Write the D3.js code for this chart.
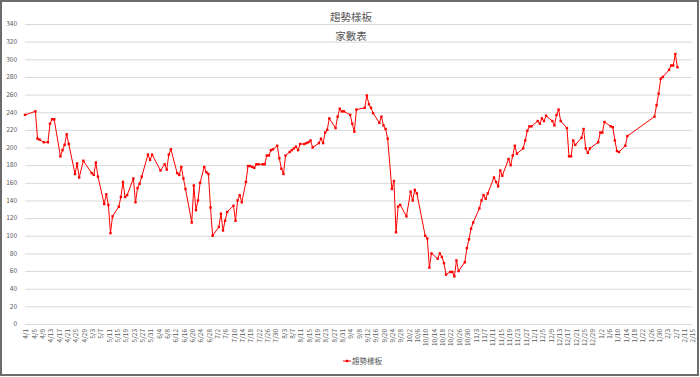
<!DOCTYPE html>
<html>
<head>
<meta charset="utf-8">
<script src="https://cdn.jsdelivr.net/npm/d3@7"></script>
<style>
  body { margin: 0; background: #fff; }
  svg { display: block; font-family: "Noto Sans CJK TC", "Noto Sans", sans-serif; }
</style>
</head>
<body>
<svg id="chart" width="700" height="377"></svg>
<script>
// 趨勢樣板 — 家數表
const title = '趨勢樣板';
const subtitle = '家數表';
const seriesName = '趨勢樣板';

const days = [
  '4/1','4/6','4/7','4/8','4/10','4/12','4/13','4/14','4/15','4/18','4/19','4/20','4/21','4/22','4/25','4/26','4/27','4/29',
  '5/3','5/4','5/5','5/6','5/9','5/10','5/11','5/12','5/13','5/16','5/17','5/18','5/19','5/20','5/23','5/24','5/25','5/26','5/27','5/30','5/31',
  '6/1','6/5','6/7','6/8','6/9','6/10','6/13','6/14','6/15','6/16','6/17','6/20','6/21','6/22','6/23','6/24','6/26','6/27','6/28','6/29','6/30',
  '7/3','7/4','7/5','7/6','7/7','7/10','7/11','7/12','7/13','7/14','7/16','7/17','7/18','7/19','7/20','7/21','7/22','7/24','7/25','7/26','7/27','7/28','7/29','7/31',
  '8/1','8/2','8/3','8/4','8/6','8/7','8/8','8/9','8/10','8/11','8/13','8/14','8/15','8/16','8/17','8/20','8/21','8/22','8/23','8/24','8/25','8/28','8/29','8/30','8/31',
  '9/1','9/4','9/5','9/6','9/7','9/11','9/12','9/13','9/14','9/15','9/18','9/19','9/20','9/21','9/22','9/24','9/25','9/26','9/27','9/28',
  '10/1','10/3','10/4','10/5','10/6','10/10','10/11','10/12','10/13','10/16','10/17','10/18','10/19','10/20','10/22','10/23','10/24','10/25','10/26','10/29','10/30','10/31',
  '11/1','11/2','11/5','11/6','11/7','11/8','11/9','11/12','11/13','11/14','11/15','11/16','11/19','11/20','11/21','11/22','11/23','11/26','11/27','11/28','11/29','11/30',
  '12/3','12/4','12/5','12/6','12/7','12/10','12/11','12/12','12/13','12/14','12/17','12/18','12/19','12/20','12/21','12/24','12/25','12/26','12/27','12/28',
  '1/1','1/2','1/3','1/4','1/7','1/8','1/9','1/10','1/11','1/14','1/15','1/28','1/29','1/30','1/31',
  '2/1','2/4','2/5','2/6','2/7','2/8'
];

const counts = [
  237,241,210,209,206,206,227,232,232,190,197,203,215,204,170,182,166,185,
  171,169,183,167,136,147,135,103,122,133,144,161,144,146,165,138,154,159,167,192,186,
  192,174,181,175,192,198,171,169,178,165,153,115,157,129,140,160,178,172,170,132,100,
  110,125,106,117,127,134,117,140,146,138,161,179,179,178,177,181,181,181,181,191,191,197,198,202,
  188,176,170,191,195,197,199,201,197,204,204,205,206,208,200,205,210,205,217,220,233,222,235,244,241,
  241,237,227,218,243,245,259,249,245,239,228,235,225,221,210,153,162,104,133,135,
  122,150,140,152,148,100,97,64,80,74,80,76,69,56,59,59,54,72,60,70,86,96,
  108,115,131,140,146,142,148,166,161,156,174,168,187,180,191,202,193,199,208,219,224,224,
  230,227,233,230,236,230,225,237,243,230,222,190,190,208,203,211,221,199,194,199,
  206,217,217,229,224,223,208,196,195,202,213,235,248,261,278,
  280,288,293,293,306,291
];

const yTicks = d3.range(0, 341, 20);
const axisStart = '4/1';
const axisEnd = '2/15';
const tickStep = 4;

// months April..December belong to the first year, Jan/Feb to the next
function parseDay(s) {
  const [m, d] = s.split('/').map(Number);
  return new Date(m >= 4 ? 2020 : 2021, m - 1, d);
}

const data = days.map((d, i) => ({ date: parseDay(d), value: counts[i] }));

const svg = d3.select('#chart');
const width = 700, height = 377;
const plot = { left: 25, right: 692, top: 24, bottom: 324 };
const textColor = '#595959';
const lineColor = '#ff0000';

svg.append('rect')
  .attr('x', 1).attr('y', 1)
  .attr('width', width - 3).attr('height', height - 3)
  .attr('fill', '#fff')
  .attr('stroke', '#6b6b6b')
  .attr('stroke-width', 2);

const x = d3.scaleTime()
  .domain([parseDay(axisStart), parseDay(axisEnd)])
  .range([plot.left, plot.right]);

const y = d3.scaleLinear()
  .domain([0, 340])
  .range([plot.bottom, plot.top]);

// gridlines
svg.append('g')
  .selectAll('line')
  .data(yTicks)
  .join('line')
  .attr('x1', plot.left).attr('x2', plot.right)
  .attr('y1', d => y(d) + 0.5).attr('y2', d => y(d) + 0.5)
  .attr('stroke', '#d9d9d9')
  .attr('stroke-width', 1);

// y labels
svg.append('g')
  .selectAll('text')
  .data(yTicks)
  .join('text')
  .attr('x', 17)
  .attr('y', d => y(d))
  .attr('dy', '0.35em')
  .attr('text-anchor', 'end')
  .attr('font-size', 6.5)
  .attr('fill', textColor)
  .text(d => d);

// x labels, every 4 days
const xTicks = d3.range(0, d3.timeDay.count(parseDay(axisStart), parseDay(axisEnd)) + 1, tickStep)
  .map(i => d3.timeDay.offset(parseDay(axisStart), i));
const fmt = d3.timeFormat('%-m/%-d');

svg.append('g')
  .selectAll('text')
  .data(xTicks)
  .join('text')
  .attr('transform', d => `translate(${x(d) + 1},${plot.bottom + 5}) rotate(-90)`)
  .attr('dy', '0.35em')
  .attr('text-anchor', 'end')
  .attr('font-size', 6.5)
  .attr('fill', textColor)
  .text(d => fmt(d));

// series
const line = d3.line()
  .x(d => x(d.date))
  .y(d => y(d.value));

svg.append('path')
  .datum(data)
  .attr('fill', 'none')
  .attr('stroke', lineColor)
  .attr('stroke-width', 1)
  .attr('d', line);

svg.append('g')
  .selectAll('rect')
  .data(data)
  .join('rect')
  .attr('x', d => x(d.date) - 1.2)
  .attr('y', d => y(d.value) - 1.2)
  .attr('width', 2.4)
  .attr('height', 2.4)
  .attr('fill', lineColor);

// titles
svg.append('text')
  .attr('x', 351).attr('y', 21)
  .attr('text-anchor', 'middle')
  .attr('font-size', 10.5)
  .attr('fill', textColor)
  .text(title);

svg.append('text')
  .attr('x', 351).attr('y', 40)
  .attr('text-anchor', 'middle')
  .attr('font-size', 10.5)
  .attr('fill', textColor)
  .text(subtitle);

// legend
const legend = svg.append('g').attr('transform', 'translate(343,361)');
legend.append('line')
  .attr('x1', 0).attr('x2', 8)
  .attr('stroke', lineColor).attr('stroke-width', 1);
legend.append('rect')
  .attr('x', 2.8).attr('y', -1.2)
  .attr('width', 2.4).attr('height', 2.4)
  .attr('fill', lineColor);
legend.append('text')
  .attr('x', 9).attr('dy', '0.35em')
  .attr('font-size', 7.5)
  .attr('fill', textColor)
  .text(seriesName);
</script>
</body>
</html>
